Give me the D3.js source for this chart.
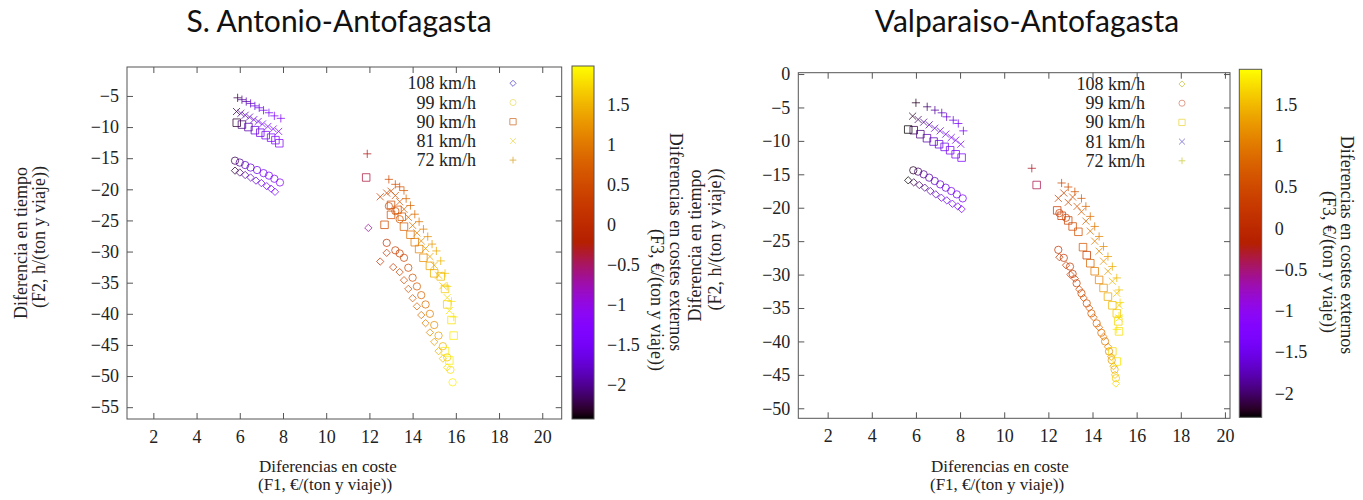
<!DOCTYPE html>
<html>
<head>
<meta charset="utf-8">
<script src="https://cdn.jsdelivr.net/npm/d3@7"></script>
<style>
body { margin: 0; background: #fff; }
text { font-family: "Liberation Serif", serif; fill: #222; }
.title { font-family: Lato, sans-serif; fill: #111; }
</style>
</head>
<body>
<script>
// --- data ---
const speedLabels = ["108 km/h", "99 km/h", "90 km/h", "81 km/h", "72 km/h"];
const speedSymbols = ["diamond", "circle", "square", "x", "plus"];
const xTicks = [2, 4, 6, 8, 10, 12, 14, 16, 18, 20];
const yTicksSA = [-5, -10, -15, -20, -25, -30, -35, -40, -45, -50, -55];
const yTicksVA = [0, -5, -10, -15, -20, -25, -30, -35, -40, -45, -50];
const cbTicks = [1.5, 1, 0.5, 0, -0.5, -1, -1.5, -2];
const legendColorsSA = ["#7a6fd8", "#f2e68a", "#d9915f", "#f1e27a", "#e0b85a"];
const legendColorsVA = ["#d8d070", "#e0a090", "#efe070", "#8c84d6", "#d8d86a"];

// each point: [F1 coste, F2 tiempo, F3 costes externos]
const sa108 = [[5.78,-17.0,-2.3],[6.00,-17.3,-2.1],[6.25,-17.7,-1.95],[6.50,-18.1,-1.8],[6.75,-18.6,-1.7],[7.00,-19.0,-1.6],[7.25,-19.5,-1.5],[7.45,-19.9,-1.4],[7.63,-20.4,-1.35],
  [11.95,-26.2,-0.7],[12.5,-31.6,0.15],[12.8,-30.2,0.2],[13.1,-32.5,0.3],[13.4,-33.3,0.4],[13.6,-34.6,0.5],[13.8,-36.0,0.6],[14.0,-37.5,0.7],[14.2,-38.8,0.8],[14.4,-40.2,0.9],[14.6,-41.5,1.0],[14.8,-43.0,1.15],[15.0,-44.5,1.3],[15.2,-46.0,1.45],[15.4,-47.2,1.6],[15.6,-48.6,1.75]];
const sa99 = [[5.78,-15.4,-2.2],[6.00,-15.7,-2.0],[6.25,-16.1,-1.85],[6.50,-16.5,-1.7],[6.80,-16.9,-1.6],[7.10,-17.4,-1.5],[7.35,-17.8,-1.4],[7.60,-18.3,-1.3],[7.86,-18.9,-1.25],
  [12.9,-22.7,0.5],[13.2,-23.5,0.55],[13.4,-24.8,0.65],[12.8,-28.6,0.2],[13.2,-29.8,0.3],[13.4,-30.3,0.35],[13.6,-31.0,0.4],[13.8,-32.6,0.5],[14.0,-34.2,0.6],[14.2,-35.6,0.7],[14.4,-37.0,0.8],[14.6,-38.5,0.9],[14.8,-40.0,1.05],[15.0,-41.8,1.2],[15.2,-43.5,1.35],[15.4,-45.2,1.5],[15.6,-47.0,1.65],[15.75,-49.0,1.8],[15.85,-51.0,1.9]];
const sa90 = [[5.86,-9.3,-2.3],[6.10,-9.6,-2.1],[6.40,-10.0,-1.9],[6.70,-10.5,-1.75],[6.95,-10.9,-1.6],[7.20,-11.3,-1.5],[7.45,-11.7,-1.4],[7.65,-12.1,-1.3],[7.83,-12.6,-1.25],
  [11.85,-18.1,-0.4],[12.7,-25.7,0.5],[13.0,-22.5,0.5],[13.0,-24.1,0.55],[13.3,-23.3,0.6],[13.5,-24.4,0.7],[13.6,-26.0,0.75],[13.9,-27.3,0.9],[14.1,-28.5,1.0],[14.3,-29.6,1.1],[14.5,-31.0,1.2],[14.8,-32.3,1.35],[15.0,-33.5,1.45],[15.3,-34.0,1.55],[15.5,-36.0,1.65],[15.6,-38.5,1.7],[15.8,-41.0,1.8],[15.9,-43.5,1.85],[15.5,-46.0,1.85],[15.7,-47.5,1.9]];
const sa81 = [[5.85,-7.5,-2.2],[6.05,-7.8,-2.0],[6.25,-8.1,-1.9],[6.45,-8.4,-1.8],[6.65,-8.8,-1.7],[6.85,-9.1,-1.6],[7.05,-9.5,-1.5],[7.30,-9.9,-1.45],[7.55,-10.3,-1.4],[7.80,-10.7,-1.35],
  [12.5,-21.2,0.4],[12.8,-20.6,0.45],[13.0,-20.3,0.5],[13.2,-21.0,0.55],[13.4,-22.0,0.65],[13.6,-23.2,0.75],[13.8,-24.5,0.85],[14.0,-25.8,0.95],[14.2,-27.0,1.05],[14.4,-28.3,1.15],[14.6,-29.5,1.25],[14.8,-30.8,1.35],[15.0,-32.2,1.45],[15.2,-33.8,1.55],[15.4,-35.5,1.65],[15.6,-37.4,1.75],[15.7,-39.5,1.8]];
const sa72 = [[5.90,-5.3,-2.2],[6.10,-5.6,-2.0],[6.30,-5.9,-1.9],[6.50,-6.2,-1.8],[6.70,-6.6,-1.7],[6.90,-6.9,-1.6],[7.10,-7.3,-1.5],[7.35,-7.7,-1.4],[7.60,-8.2,-1.35],[7.90,-8.6,-1.3],
  [11.9,-14.3,-0.3],[12.9,-18.4,0.5],[13.2,-19.2,0.6],[13.4,-19.6,0.6],[13.6,-20.2,0.7],[13.7,-21.5,0.8],[13.9,-22.6,0.8],[14.1,-24.0,0.9],[14.3,-25.2,1.0],[14.5,-26.4,1.1],[14.7,-27.6,1.2],[14.9,-28.8,1.3],[15.1,-29.9,1.4],[15.3,-31.5,1.5],[15.5,-33.5,1.6],[15.6,-35.6,1.7],[15.8,-38.0,1.8],[15.9,-40.5,1.85]];

const va108 = [[5.65,-15.9,-2.3],[5.90,-16.2,-2.1],[6.15,-16.6,-2.0],[6.40,-17.0,-1.9],[6.65,-17.5,-1.8],[6.90,-18.0,-1.7],[7.15,-18.5,-1.6],[7.40,-18.9,-1.5],[7.65,-19.4,-1.4],[7.90,-19.8,-1.35],[8.07,-20.2,-1.3],
  [12.5,-27.4,0.2],[12.8,-28.6,0.25],[13.0,-30.0,0.3],[13.2,-30.6,0.35],[13.4,-32.2,0.45],[13.6,-33.5,0.55],[13.85,-35.0,0.65],[14.05,-36.4,0.75],[14.3,-37.9,0.85],[14.5,-39.3,0.95],[14.7,-40.8,1.1],[14.85,-42.3,1.25],[14.95,-43.7,1.4],[15.02,-45.0,1.55],[15.06,-46.3,1.7]];
const va99 = [[5.88,-14.4,-2.2],[6.10,-14.6,-2.0],[6.35,-15.0,-1.9],[6.60,-15.5,-1.8],[6.85,-16.0,-1.7],[7.10,-16.5,-1.6],[7.35,-17.0,-1.5],[7.60,-17.5,-1.4],[7.85,-18.0,-1.35],[8.12,-18.6,-1.3],
  [12.5,-20.8,0.35],[12.8,-21.5,0.4],[12.45,-26.3,0.2],[12.7,-27.5,0.25],[12.98,-28.8,0.3],[13.1,-29.9,0.35],[13.28,-31.3,0.4],[13.5,-32.8,0.5],[13.74,-34.3,0.6],[13.95,-35.8,0.7],[14.19,-37.3,0.8],[14.4,-38.7,0.9],[14.57,-40.0,1.0],[14.75,-41.5,1.15],[14.87,-42.8,1.3],[15.0,-44.2,1.45],[15.06,-45.5,1.6]];
const va90 = [[5.65,-8.3,-2.3],[5.90,-8.4,-2.1],[6.20,-9.0,-1.95],[6.50,-9.6,-1.8],[6.80,-10.1,-1.7],[7.05,-10.5,-1.6],[7.30,-10.9,-1.5],[7.55,-11.4,-1.4],[7.80,-12.0,-1.35],[8.07,-12.5,-1.3],
  [11.47,-16.6,-0.4],[12.4,-20.4,0.3],[12.6,-21.2,0.35],[12.9,-21.9,0.4],[13.1,-22.8,0.5],[13.36,-23.6,0.6],[13.57,-25.9,0.65],[13.74,-27.1,0.3],[13.9,-28.3,0.8],[14.1,-29.5,1.0],[14.3,-30.8,1.1],[14.5,-32.0,1.25],[14.7,-33.3,1.4],[14.9,-34.6,1.5],[15.1,-35.8,1.6],[15.17,-37.0,1.7],[15.2,-38.5,1.75],[14.9,-41.5,1.7],[15.1,-43.0,1.8]];
const va81 = [[5.85,-6.3,-2.2],[6.10,-6.8,-2.0],[6.35,-7.2,-1.9],[6.60,-7.6,-1.8],[6.85,-8.1,-1.7],[7.10,-8.5,-1.6],[7.35,-9.0,-1.5],[7.60,-9.5,-1.4],[7.80,-9.9,-1.35],[8.03,-10.5,-1.3],
  [12.45,-18.6,0.4],[12.7,-17.8,0.45],[12.9,-19.2,0.5],[13.1,-18.4,0.55],[13.3,-19.8,0.6],[13.5,-20.6,0.7],[13.7,-22.0,0.8],[13.9,-23.5,0.9],[14.1,-25.0,1.0],[14.3,-26.5,1.1],[14.5,-28.0,1.2],[14.7,-29.5,1.3],[14.9,-31.0,1.45],[15.1,-32.8,1.55],[15.2,-34.6,1.65],[15.2,-36.5,1.75]];
const va72 = [[6.00,-4.3,-2.2],[6.51,-4.9,-2.0],[6.86,-5.4,-1.85],[7.17,-5.8,-1.7],[7.39,-6.4,-1.6],[7.69,-6.9,-1.5],[7.92,-7.4,-1.4],[8.15,-8.5,-1.3],
  [11.25,-14.1,-0.3],[12.6,-16.3,0.5],[12.9,-16.9,0.55],[13.2,-17.6,0.6],[13.5,-18.6,0.7],[13.7,-19.8,0.8],[13.9,-21.3,0.9],[14.1,-22.8,1.0],[14.3,-24.3,1.1],[14.5,-25.8,1.2],[14.7,-27.3,1.3],[14.9,-28.8,1.4],[15.1,-30.5,1.5],[15.2,-32.3,1.6],[15.25,-34.2,1.7],[15.2,-36.2,1.75],[15.1,-38.2,1.8]];

// --- layout ---
const W = 1363, H = 500;
const svg = d3.select("body").append("svg").attr("width", W).attr("height", H);

const symbolTypes = {diamond: d3.symbolDiamond2, circle: d3.symbolCircle, square: d3.symbolSquare2, x: d3.symbolX, plus: d3.symbolPlus};
const symbolSizes = {diamond: 34, circle: 42, square: 72, x: 34, plus: 24};

// gnuplot default pm3d palette (rgbformulae 7,5,15)
function palette(t) {
  t = Math.max(0, Math.min(1, t));
  const r = Math.sqrt(t), g = t * t * t, b = Math.max(0, Math.sin(2 * Math.PI * t));
  return d3.rgb(r * 255, g * 255, b * 255).toString();
}

const panels = [
  {
    id: "sa", title: "S. Antonio-Antofagasta", titleX: 339,
    series: [sa108, sa99, sa90, sa81, sa72], legendColors: legendColorsSA,
    box: {x0: 127, x1: 561.7, y0: 67, y1: 419},
    xDomain: [0.78, 20.9], yDomain: [-56.9, -0.35], yTicks: yTicksSA,
    cb: {x0: 572, x1: 594, y0: 66, y1: 419, domain: [-2.43, 1.98]},
    yLab: [27, 45], cbLab: [670, 651], cbLabY: [242, 300], xLabX: 259,
    legend: {textX: 476, symX: 513, y0: 83.3}
  },
  {
    id: "va", title: "Valparaiso-Antofagasta", titleX: 1027,
    series: [va108, va99, va90, va81, va72], legendColors: legendColorsVA,
    box: {x0: 798.3, x1: 1230, y0: 72.7, y1: 418.3},
    xDomain: [0.67, 20.23], yDomain: [-51.5, 0.2], yTicks: yTicksVA,
    cb: {x0: 1239.3, x1: 1261.7, y0: 69.3, y1: 417.3, domain: [-2.29, 1.93]},
    yLab: [701, 721], cbLab: [1341, 1323], cbLabY: [245, 262], xLabX: 931,
    legend: {textX: 1145, symX: 1182, y0: 84}
  }
];

function drawPanel(p) {
  const b = p.box;
  const x = d3.scaleLinear().domain(p.xDomain).range([b.x0, b.x1]);
  const y = d3.scaleLinear().domain(p.yDomain).range([b.y1, b.y0]);
  const c = d3.scaleLinear().domain(p.cb.domain).range([0, 1]);
  const g = svg.append("g");

  g.append("text").attr("class", "title")
    .attr("x", p.titleX).attr("y", 32).attr("text-anchor", "middle")
    .style("font-size", "30px").text(p.title);

  // axes, ticks pointing inward, mirrored on top/right
  const fmt = d3.format("~g");
  const gx = g.append("g").attr("transform", `translate(0,${b.y1})`)
    .call(d3.axisBottom(x).tickValues(xTicks).tickSize(-6).tickPadding(11).tickFormat(fmt));
  const gy = g.append("g").attr("transform", `translate(${b.x0},0)`)
    .call(d3.axisLeft(y).tickValues(p.yTicks).tickSize(-6).tickPadding(8).tickFormat(fmt));
  const gt = g.append("g").attr("transform", `translate(0,${b.y0})`)
    .call(d3.axisTop(x).tickValues(xTicks).tickSize(-6).tickFormat(""));
  const gr = g.append("g").attr("transform", `translate(${b.x1},0)`)
    .call(d3.axisRight(y).tickValues(p.yTicks).tickSize(-6).tickFormat(""));
  [gx, gy, gt, gr].forEach(a => {
    a.select(".domain").remove();
    a.selectAll(".tick line").attr("stroke", "#555");
    a.selectAll("text").style("font-size", "18px").style("font-family", "'Liberation Serif', serif").attr("fill", "#222");
  });
  g.append("rect").attr("x", b.x0).attr("y", b.y0)
    .attr("width", b.x1 - b.x0).attr("height", b.y1 - b.y0)
    .attr("fill", "none").attr("stroke", "#555").attr("stroke-width", 1);

  // axis titles
  g.append("text").attr("x", p.xLabX).attr("y", 472).style("font-size", "17px").text("Diferencias en coste");
  g.append("text").attr("x", p.xLabX - 1).attr("y", 490).style("font-size", "17px").text("(F1, €/(ton y viaje))");

  const cy = (b.y0 + b.y1) / 2;
  g.append("text").attr("transform", `translate(${p.yLab[0]},${cy}) rotate(-90)`)
    .attr("text-anchor", "middle").style("font-size", "18px").text("Diferencia en tiempo");
  g.append("text").attr("transform", `translate(${p.yLab[1]},${cy - 6}) rotate(-90)`)
    .attr("text-anchor", "middle").style("font-size", "18px").text("(F2, h/(ton y viaje))");

  // colour box
  const grad = svg.append("defs").append("linearGradient").attr("id", "grad-" + p.id)
    .attr("x1", 0).attr("y1", 1).attr("x2", 0).attr("y2", 0);
  d3.range(0, 1.0001, 0.02).forEach(t => {
    grad.append("stop").attr("offset", t).attr("stop-color", palette(t));
  });
  g.append("rect").attr("x", p.cb.x0).attr("y", p.cb.y0)
    .attr("width", p.cb.x1 - p.cb.x0).attr("height", p.cb.y1 - p.cb.y0)
    .attr("fill", `url(#grad-${p.id})`).attr("stroke", "#555");
  const cbScale = d3.scaleLinear().domain(p.cb.domain).range([p.cb.y1, p.cb.y0]);
  const gc = g.append("g").attr("transform", `translate(${p.cb.x1},0)`)
    .call(d3.axisRight(cbScale).tickValues(cbTicks).tickSize(0).tickPadding(13).tickFormat(fmt));
  gc.select(".domain").remove();
  gc.selectAll("text").style("font-size", "18px").style("font-family", "'Liberation Serif', serif").attr("fill", "#222");

  g.append("text").attr("transform", `translate(${p.cbLab[0]},${p.cbLabY[0]}) rotate(90)`)
    .attr("text-anchor", "middle").style("font-size", "18px").text("Diferencias en costes externos");
  g.append("text").attr("transform", `translate(${p.cbLab[1]},${p.cbLabY[1]}) rotate(90)`)
    .attr("text-anchor", "middle").style("font-size", "18px").text("(F3, €/(ton y viaje))");

  // points
  p.series.forEach((pts, i) => {
    const sym = d3.symbol().type(symbolTypes[speedSymbols[i]]).size(symbolSizes[speedSymbols[i]]);
    g.append("g").selectAll("path").data(pts).join("path")
      .attr("transform", d => `translate(${x(d[0])},${y(d[1])})`)
      .attr("d", sym)
      .attr("fill", "none")
      .attr("stroke", d => palette(c(d[2])))
      .attr("stroke-opacity", 0.75)
      .attr("stroke-width", 1);
  });

  // key
  speedLabels.forEach((lab, i) => {
    const ry = p.legend.y0 + i * 19.2;
    g.append("text").attr("x", p.legend.textX).attr("y", ry + 6)
      .attr("text-anchor", "end").style("font-size", "18px").text(lab);
    g.append("path")
      .attr("transform", `translate(${p.legend.symX},${ry})`)
      .attr("d", d3.symbol().type(symbolTypes[speedSymbols[i]]).size(symbolSizes[speedSymbols[i]] * 0.7))
      .attr("fill", "none").attr("stroke", p.legendColors[i]).attr("stroke-width", 1);
  });
}

panels.forEach(drawPanel);
</script>
</body>
</html>
